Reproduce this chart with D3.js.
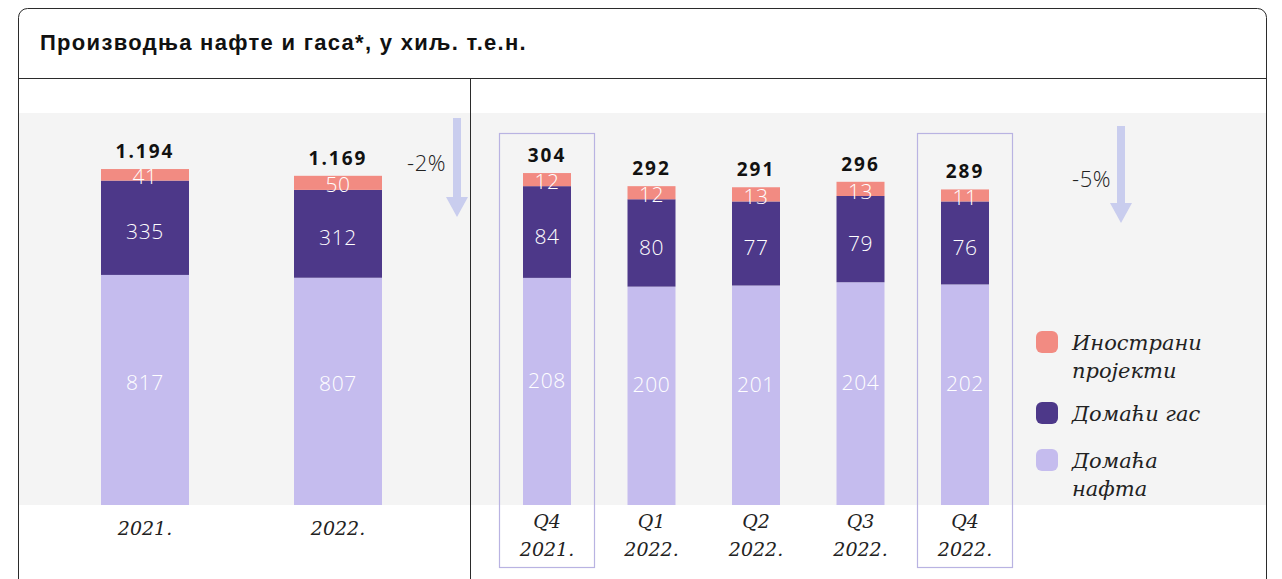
<!DOCTYPE html>
<html>
<head>
<meta charset="utf-8">
<script src="https://cdn.jsdelivr.net/npm/d3@7"></script>
<style>
  body { margin: 0; background: #fff; }
  svg { display: block; }
</style>
</head>
<body>
<div id="chart"></div>
<script>
// data
const years = ["2021.", "2022."];
const yearOil = [817, 807];
const yearGas = [335, 312];
const yearForeign = [41, 50];
const yearTotals = ["1.194", "1.169"];

const quarters = ["Q4|2021.", "Q1|2022.", "Q2|2022.", "Q3|2022.", "Q4|2022."];
const qOil = [208, 200, 201, 204, 202];
const qGas = [84, 80, 77, 79, 76];
const qForeign = [12, 12, 13, 13, 11];
const qTotals = ["304", "292", "291", "296", "289"];

const highlighted = ["Q4|2021.", "Q4|2022."];

const colors = { oil: "#c5bcee", gas: "#4d3889", foreign: "#f28b82" };
const legendItems = [
  { key: "foreign", lines: ["Инострани", "пројекти"] },
  { key: "gas", lines: ["Домаћи гас"] },
  { key: "oil", lines: ["Домаћа", "нафта"] },
];

const W = 1282, H = 579;
const base = 505, bandTop = 113;
const serif = "'DejaVu Serif', serif";
const sans = "'Open Sans', sans-serif";

const svg = d3.select("#chart").append("svg")
  .attr("width", W).attr("height", H);

// card
svg.append("rect")
  .attr("x", 18.5).attr("y", 8.5)
  .attr("width", 1248).attr("height", 640)
  .attr("rx", 9)
  .attr("fill", "#fff").attr("stroke", "#2b2b2b").attr("stroke-width", 1);

svg.append("text")
  .attr("x", 40).attr("y", 50)
  .style("font-family", "'Liberation Sans', Arial, sans-serif")
  .style("font-weight", 700).style("font-size", "22px")
  .style("letter-spacing", "1.3px")
  .attr("fill", "#111")
  .text("Производња нафте и гаса*, у хиљ. т.е.н.");

svg.append("line")
  .attr("x1", 19).attr("x2", 1266).attr("y1", 78.5).attr("y2", 78.5)
  .attr("stroke", "#2b2b2b");

// grey band
svg.append("rect")
  .attr("x", 19).attr("y", bandTop)
  .attr("width", 1247).attr("height", base - bandTop)
  .attr("fill", "#f4f4f4");

svg.append("line")
  .attr("x1", 470.5).attr("x2", 470.5).attr("y1", 78).attr("y2", H)
  .attr("stroke", "#2b2b2b");

const keys = ["oil", "gas", "foreign"];

function drawPanel(cats, oil, gas, foreign, totals, xRange, barW, yMax, opts) {
  const rows = cats.map((c, i) => ({ cat: c, oil: oil[i], gas: gas[i], foreign: foreign[i], total: totals[i] }));
  const x = d3.scalePoint().domain(cats).range(xRange);
  const y = d3.scaleLinear().domain([0, yMax]).range([base, bandTop]);
  const stacked = d3.stack().keys(keys)(rows);

  const g = svg.append("g");

  // highlight boxes
  if (opts.highlight) {
    g.selectAll(".hl")
      .data(cats.filter(c => opts.highlight.includes(c)))
      .join("rect")
      .attr("x", c => x(c) - 47.5).attr("width", 95)
      .attr("y", 133.5).attr("height", 434)
      .attr("fill", "none").attr("stroke", "#b9b3e2").attr("stroke-width", 1.2);
  }

  const layers = g.selectAll(".layer").data(stacked).join("g")
    .attr("fill", d => colors[d.key]);

  layers.selectAll("rect").data(d => d).join("rect")
    .attr("x", d => x(d.data.cat) - barW / 2)
    .attr("width", barW)
    .attr("y", d => y(d[1]))
    .attr("height", d => y(d[0]) - y(d[1]));

  const offs = { oil: opts.oilOff, gas: 6, foreign: 4 };
  stacked.forEach(layer => {
    g.selectAll(".lbl-" + layer.key).data(layer).join("text")
      .attr("x", d => x(d.data.cat))
      .attr("y", d => (y(d[0]) + y(d[1])) / 2 + offs[layer.key])
      .attr("text-anchor", "middle")
      .attr("dominant-baseline", "middle")
      .style("font-family", sans)
      .style("font-weight", 300).style("font-size", "21px")
      .style("letter-spacing", "0.6px")
      .attr("fill", "#fff")
      .text(d => d.data[layer.key]);
  });

  g.selectAll(".total").data(rows).join("text")
    .attr("x", d => x(d.cat))
    .attr("y", d => y(d.oil + d.gas + d.foreign) - 11)
    .attr("text-anchor", "middle")
    .style("font-family", sans)
    .style("font-weight", 700).style("font-size", "19px")
    .style("letter-spacing", "2px")
    .attr("fill", "#111")
    .text(d => d.total);

  // category labels
  const xl = g.selectAll(".xl").data(cats).join("text")
    .attr("x", c => x(c))
    .attr("text-anchor", "middle")
    .style("font-family", serif)
    .style("font-style", "italic").style("font-size", "19px")
    .attr("fill", "#222");
  xl.each(function (c) {
    const parts = c.split("|");
    const t = d3.select(this);
    if (parts.length === 1) {
      t.attr("y", 535).text(parts[0]);
    } else {
      t.append("tspan").attr("x", x(c)).attr("y", 528).text(parts[0]);
      t.append("tspan").attr("x", x(c)).attr("y", 556).text(parts[1]);
    }
  });
}

drawPanel(years, yearOil, yearGas, yearForeign, yearTotals, [145, 338], 88, 1392, { oilOff: -6 });
drawPanel(quarters, qOil, qGas, qForeign, qTotals, [547, 965], 48, 359, { oilOff: -9, highlight: highlighted });

// change arrows
function arrow(cx, y0, y1, label, lx, ly) {
  const path = d3.path();
  path.moveTo(cx - 4, y0);
  path.lineTo(cx + 4, y0);
  path.lineTo(cx + 4, y1 - 20);
  path.lineTo(cx + 11, y1 - 20);
  path.lineTo(cx, y1);
  path.lineTo(cx - 11, y1 - 20);
  path.lineTo(cx - 4, y1 - 20);
  path.closePath();
  svg.append("path").attr("d", path.toString()).attr("fill", "#c9cdee");
  svg.append("text")
    .attr("x", lx).attr("y", ly)
    .attr("text-anchor", "end")
    .attr("dominant-baseline", "middle")
    .style("font-family", sans)
    .style("font-weight", 300).style("font-size", "22px")
    .style("letter-spacing", "0.5px")
    .attr("fill", "#222")
    .text(label);
}
arrow(457, 118, 217, "-2%", 446, 165);
arrow(1121, 126, 223, "-5%", 1111, 181);

// legend
const lg = svg.append("g");
const legendY = [342, 413, 460];
legendItems.forEach((it, i) => {
  lg.append("rect")
    .attr("x", 1036).attr("y", legendY[i] - 11)
    .attr("width", 22).attr("height", 22).attr("rx", 6)
    .attr("fill", colors[it.key]);
  const t = lg.append("text")
    .style("font-family", serif)
    .style("font-style", "italic").style("font-size", "21px")
    .attr("fill", "#222");
  it.lines.forEach((ln, j) => {
    t.append("tspan").attr("x", 1072).attr("y", legendY[i] + 8 + j * 28).text(ln);
  });
});
</script>
</body>
</html>
